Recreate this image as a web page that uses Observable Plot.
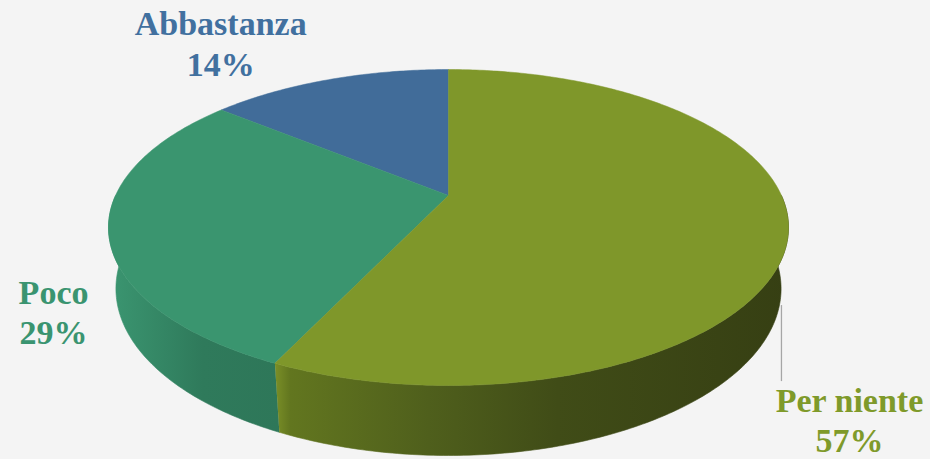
<!DOCTYPE html>
<html><head><meta charset="utf-8">
<script src="https://cdn.jsdelivr.net/npm/d3@7"></script>
<script src="https://cdn.jsdelivr.net/npm/@observablehq/plot@0.6"></script>
<style>html,body{margin:0;padding:0;background:#f4f4f4;overflow:hidden}</style>
</head><body><div id="chart"></div>
<script>
// ---- data ----
const categories = ["Abbastanza", "Poco", "Per niente"];
const values = [14, 29, 57];
const percentLabels = ["14%", "29%", "57%"];

// ---- styles ----
const topColors = ["#416c99", "#3a956f", "#7f972a"];
const textColors = ["#41709f", "#3a9470", "#7f9a2a"];
const sideGradients = [
  null,
  [[0, "#3b9671"], [0.55, "#2f7a5b"], [1, "#2e7759"]],
  [[0, "#7a8f27"], [0.03, "#62761f"], [0.3, "#4f5f1c"], [0.55, "#404c17"], [1, "#363f13"]]
];
const W = 930, H = 459;

// ---- 3D perspective pie geometry ----
const RAD = Math.PI / 180;
const elev = 27.07 * RAD, se = Math.sin(elev), ce = Math.cos(elev);
const D = 4.937 * ce, k = 126 * (D + ce) / se, thick = 0.207;
const cx = 448, cy = 195;
function proj(u, v, h = 0) {
  const yc = v * se - h * ce, zc = D + v * ce + h * se;
  return {x: cx + k * u / zc, y: cy - k * yc / zc};
}
function rim(f, h = 0, r = 1) {
  const t = 2 * Math.PI * f;
  return proj(-Math.sin(t) * r, Math.cos(t) * r, h);
}
function arc(f0, f1, h = 0, r = 1) {
  const n = Math.max(2, Math.ceil((f1 - f0) / 0.002));
  return d3.range(n + 1).map(i => rim(f0 + (f1 - f0) * i / n, h, r));
}

const total = d3.sum(values);
const ends = d3.cumsum(values).map(v => v / total);
const starts = [0, ...ends.slice(0, -1)];

const marks = [];
// shadow
marks.push(Plot.line(arc(0, 1, thick * 1.02), {x: "x", y: "y", fill: "#8c8c8c", fillOpacity: 0.5, stroke: "none", dx: 4, dy: 6, ariaLabel: "shadow"}));
// walls (front half only)
values.forEach((v, i) => {
  const a = Math.max(starts[i], 0.25), b = Math.min(ends[i], 0.75);
  if (a >= b) return;
  const pts = [...arc(a, b, 0), ...arc(a, b, thick).reverse()];
  marks.push(Plot.line(pts, {x: "x", y: "y", fill: `url(#side${i})`, stroke: `url(#side${i})`, strokeWidth: 0.6}));
});
// top faces
values.forEach((v, i) => {
  const pts = [proj(0, 0), ...arc(starts[i], ends[i], 0), proj(0, 0)];
  marks.push(Plot.line(pts, {x: "x", y: "y", fill: topColors[i], stroke: topColors[i], strokeWidth: 0.5}));
});
// bevel highlight along the front rim
values.forEach((v, i) => {
  const a = Math.max(starts[i], 0.2), b = Math.min(ends[i], 0.75);
  if (a >= b) return;
  marks.push(Plot.line(arc(a, b, 0, 0.975), {x: "x", y: "y", stroke: `url(#rim${i})`, strokeWidth: 4, ariaLabel: "bevel"}));
});

// labels
const mids = values.map((v, i) => (starts[i] + ends[i]) / 2);
const labelOffsets = [[-108, -37], [-55, 81], [61, 189]];
const labelRows = categories.map((c, i) => {
  const p = rim(mids[i]);
  return {text: c + "\n" + percentLabels[i], x: p.x + labelOffsets[i][0], y: p.y + labelOffsets[i][1], color: textColors[i]};
});
const lead = labelRows[2];
marks.push(Plot.link([lead], {x1: d => d.x - 68, y1: d => d.y - 114, x2: d => d.x - 68, y2: d => d.y - 38, stroke: "#a6a6a6", strokeWidth: 1.3}));
marks.push(Plot.text(labelRows, {x: "x", y: "y", text: "text", fill: "color", lineAnchor: "middle", lineHeight: 1.18,
  fontSize: 34, fontWeight: "bold", fontFamily: "'Liberation Serif', 'DejaVu Serif', serif"}));

const svg = Plot.plot({
  width: W, height: H, margin: 0,
  x: {domain: [0, W], range: [0, W], axis: null},
  y: {domain: [0, H], range: [0, H], axis: null},
  style: {background: "#f4f4f4", overflow: "hidden"},
  marks
});

// gradients & filters
const defs = d3.select(svg).insert("defs", ":first-child");
sideGradients.forEach((stops, i) => {
  if (!stops) return;
  const g = defs.append("linearGradient").attr("id", `side${i}`).attr("x1", 0).attr("x2", 1).attr("y1", 0).attr("y2", 0);
  stops.forEach(([o, c]) => g.append("stop").attr("offset", o).attr("stop-color", c));
});
const rimStops = [
  null,
  [[0, "#5cc79b", 0.85], [1, "#4fb88c", 0.7]],
  [[0, "#b8c944", 0.9], [0.35, "#a2b73a", 0.5], [0.6, "#6f8322", 0.3], [1, "#3c4714", 0.8]]
];
rimStops.forEach((stops, i) => {
  if (!stops) return;
  const g = defs.append("linearGradient").attr("id", `rim${i}`).attr("gradientUnits", "userSpaceOnUse")
    .attr("x1", i === 1 ? 100 : 275).attr("x2", i === 1 ? 280 : 790).attr("y1", 0).attr("y2", 0);
  stops.forEach(([o, c, a]) => g.append("stop").attr("offset", o).attr("stop-color", c).attr("stop-opacity", a));
});
defs.append("filter").attr("id", "blurShadow").attr("x", "-20%").attr("y", "-20%").attr("width", "140%").attr("height", "140%")
  .append("feGaussianBlur").attr("stdDeviation", 8);
defs.append("filter").attr("id", "blurBevel").attr("x", "-10%").attr("y", "-10%").attr("width", "120%").attr("height", "120%")
  .append("feGaussianBlur").attr("stdDeviation", 1.8);
d3.select(svg).selectAll('g[aria-label="shadow"]').attr("filter", "url(#blurShadow)");
d3.select(svg).selectAll('g[aria-label="bevel"]').attr("filter", "url(#blurBevel)");

document.getElementById("chart").appendChild(svg);
</script>
</body></html>
